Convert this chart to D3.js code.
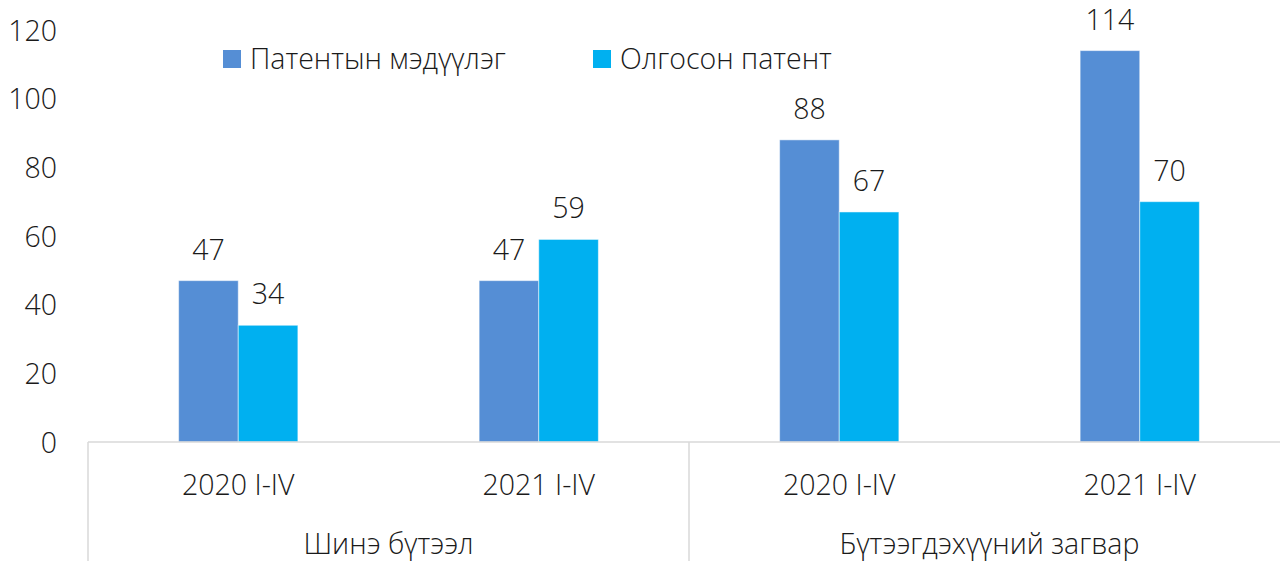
<!DOCTYPE html>
<html>
<head>
<meta charset="utf-8">
<script src="https://cdn.jsdelivr.net/npm/d3@7"></script>
<style>
  body { margin: 0; background: #fff; overflow: hidden; }
  text { font-family: "Open Sans", "Noto Sans", sans-serif; font-weight: 350; fill: #1a1a1a; }
</style>
</head>
<body>
<div id="chart"></div>
<script>
// Data
const categories = ["2020 I-IV", "2021 I-IV", "2020 I-IV ", "2021 I-IV "];
const groups = [
  { name: "Шинэ бүтээл", members: ["2020 I-IV", "2021 I-IV"] },
  { name: "Бүтээгдэхүүний загвар", members: ["2020 I-IV ", "2021 I-IV "] }
];
const seriesNames = ["Патентын мэдүүлэг", "Олгосон патент"];
const applications = [47, 47, 88, 114];
const granted = [34, 59, 67, 70];
const yTicks = [0, 20, 40, 60, 80, 100, 120];
const colors = ["#558ed5", "#00b0f0"];

const W = 1280, H = 561;
const fontSize = 28.5;

const svg = d3.select("#chart").append("svg")
  .attr("width", W)
  .attr("height", H);

const x0 = d3.scaleBand()
  .domain(categories)
  .range([88, 1290])
  .padding(0);

const x1 = d3.scaleBand()
  .domain(seriesNames)
  .range([0, x0.bandwidth()])
  .paddingInner(0)
  .paddingOuter(1.52);

const y = d3.scaleLinear()
  .domain([0, 120])
  .range([442, 30]);

const color = d3.scaleOrdinal().domain(seriesNames).range(colors);

// y axis labels (no line, no ticks)
const yAxis = d3.axisLeft(y).tickValues(yTicks).tickSize(0).tickPadding(0);
const yg = svg.append("g")
  .attr("transform", "translate(57,0)")
  .call(yAxis);
yg.select(".domain").remove();
yg.selectAll("text")
  .attr("font-size", fontSize)
  .attr("font-family", null)
  .attr("dy", "0.36em");

// bars
const rows = categories.map((c, i) => ({
  cat: c,
  values: [
    { series: seriesNames[0], value: applications[i] },
    { series: seriesNames[1], value: granted[i] }
  ]
}));

const catG = svg.selectAll(".cat")
  .data(rows)
  .enter()
  .append("g")
  .attr("class", "cat")
  .attr("transform", d => `translate(${x0(d.cat)},0)`);

catG.selectAll("rect")
  .data(d => d.values)
  .enter()
  .append("rect")
  .attr("x", d => x1(d.series))
  .attr("y", d => y(d.value))
  .attr("width", x1.bandwidth())
  .attr("height", d => y(0) - y(d.value))
  .attr("fill", d => color(d.series))
  .attr("stroke", "#fff")
  .attr("stroke-opacity", 0.5)
  .attr("stroke-width", 1);

catG.selectAll(".val")
  .data(d => d.values)
  .enter()
  .append("text")
  .attr("class", "val")
  .attr("x", d => x1(d.series) + x1.bandwidth() / 2)
  .attr("y", d => y(d.value) - 21)
  .attr("text-anchor", "middle")
  .attr("font-size", fontSize)
  .text(d => d.value);

// category axis
svg.append("line")
  .attr("x1", 88).attr("x2", 1290)
  .attr("y1", y(0)).attr("y2", y(0))
  .attr("stroke", "#d9d9d9")
  .attr("stroke-width", 1.5);

const bounds = [x0(groups[0].members[0]), x0(groups[1].members[0]), x0.range()[1]];
svg.selectAll(".sep")
  .data(bounds)
  .enter()
  .append("line")
  .attr("class", "sep")
  .attr("x1", d => d).attr("x2", d => d)
  .attr("y1", y(0)).attr("y2", H)
  .attr("stroke", "#d9d9d9")
  .attr("stroke-width", 1.5);

svg.selectAll(".catlabel")
  .data(categories)
  .enter()
  .append("text")
  .attr("class", "catlabel")
  .attr("x", d => x0(d) + x0.bandwidth() / 2)
  .attr("y", 495)
  .attr("text-anchor", "middle")
  .attr("font-size", fontSize)
  .text(d => d.trim());

svg.selectAll(".grouplabel")
  .data(groups)
  .enter()
  .append("text")
  .attr("class", "grouplabel")
  .attr("x", d => (x0(d.members[0]) + x0(d.members[1]) + x0.bandwidth()) / 2)
  .attr("y", 554)
  .attr("text-anchor", "middle")
  .attr("font-size", fontSize)
  .text(d => d.name);

// legend
const legendX = [223, 593];
const legend = svg.selectAll(".legend")
  .data(seriesNames)
  .enter()
  .append("g")
  .attr("class", "legend")
  .attr("transform", (d, i) => `translate(${legendX[i]},50)`);

legend.append("rect")
  .attr("width", 18)
  .attr("height", 18)
  .attr("fill", d => color(d));

legend.append("text")
  .attr("x", 27)
  .attr("y", 18.5)
  .attr("font-size", fontSize)
  .text(d => d);
</script>
</body>
</html>
